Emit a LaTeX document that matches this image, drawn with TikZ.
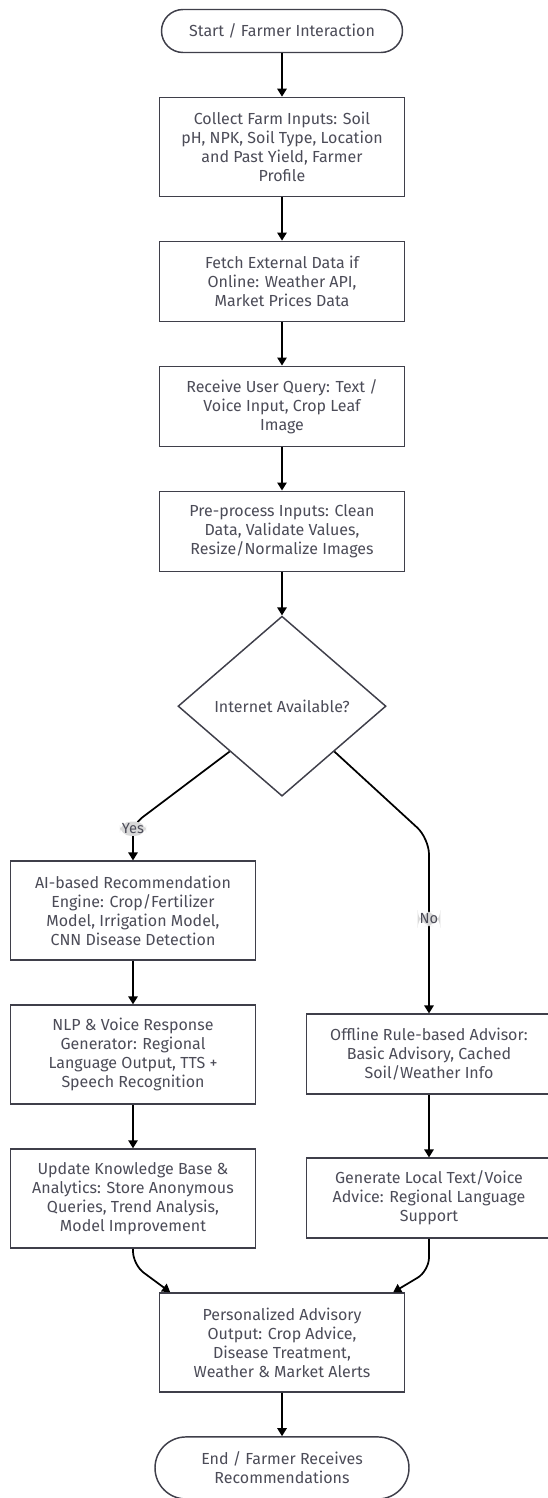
\documentclass[tikz,border=0pt]{standalone}
\usepackage{fontspec}
\setmainfont{Fira Sans}
\usetikzlibrary{positioning, shapes.geometric, shapes.misc, arrows.meta, calc}
\definecolor{edge}{HTML}{3F3F4A}
\definecolor{ink}{HTML}{4C4C58}
\definecolor{tagbg}{HTML}{D9D9D9}

\begin{document}
\begin{tikzpicture}[
    x=0.75pt, y=-0.75pt,
    node distance = 32.6pt,
    every node/.style={font=\fontsize{12}{14.25}\selectfont, text=ink},
    box/.style={rectangle, draw=edge, fill=white, line width=1.1pt, minimum width=183.75pt, minimum height=60pt, align=center, inner sep=0pt},
    tallbox/.style={box, minimum height=74.25pt},
    termnode/.style={rounded rectangle, draw=edge, fill=white, line width=1.1pt, align=center, inner sep=0pt},
    decnode/.style={diamond, draw=edge, fill=white, line width=1.1pt, minimum width=156pt, minimum height=135pt, inner sep=0pt, aspect=1},
    arrow/.style={-{Triangle[width=7pt,length=6pt]}, line width=1.3pt, black},
    tag/.style={fill=tagbg, inner sep=1.5pt, font=\fontsize{11}{12}\selectfont},
  ]
  \useasboundingbox (0,0) rectangle (548,1498);

  % main column
  \node[termnode, minimum width=180.75pt, minimum height=32.25pt] (start) at (282,31) {Start / Farmer Interaction};
  \node[tallbox] (collect) [below=of start] {Collect Farm Inputs: Soil\\pH, NPK, Soil Type, Location\\and Past Yield, Farmer\\Profile};
  \node[box] (fetch) [below=of collect] {Fetch External Data if\\Online: Weather API,\\Market Prices Data};
  \node[box] (query) [below=of fetch] {Receive User Query: Text /\\Voice Input, Crop Leaf\\Image};
  \node[box] (prep) [below=of query] {Pre-process Inputs: Clean\\Data, Validate Values,\\Resize/Normalize Images};
  \node[decnode] (net) [below=of prep] {Internet Available?};

  % online branch
  \node[tallbox] (ai) [below=47.65pt of net, xshift=-111.75pt] {AI-based Recommendation\\Engine: Crop/Fertilizer\\Model, Irrigation Model,\\CNN Disease Detection};
  \node[tallbox] (nlp) [below=of ai] {NLP \& Voice Response\\Generator: Regional\\Language Output, TTS +\\Speech Recognition};
  \node[tallbox] (update) [below=of nlp] {Update Knowledge Base \&\\Analytics: Store Anonymous\\Queries, Trend Analysis,\\Model Improvement};

  % offline branch
  \node[box] (offline) [below=162.4pt of net, xshift=110.25pt] {Offline Rule-based Advisor:\\Basic Advisory, Cached\\Soil/Weather Info};
  \node[box] (local) [below=46.9pt of offline] {Generate Local Text/Voice\\Advice: Regional Language\\Support};

  % merge
  \node[tallbox, anchor=north] (advice) at ($(net |- update.south)+(0,43.5)$) {Personalized Advisory\\Output: Crop Advice,\\Disease Treatment,\\Weather \& Market Alerts};
  \node[termnode, minimum width=190.5pt, minimum height=46.5pt] (end) [below=of advice] {End / Farmer Receives\\Recommendations};

  \draw[arrow] (start) -- (collect);
  \draw[arrow] (collect) -- (fetch);
  \draw[arrow] (fetch) -- (query);
  \draw[arrow] (query) -- (prep);
  \draw[arrow] (prep) -- (net);
  \draw[arrow, rounded corners=8pt] (net.south west) -- ([yshift=27pt]ai.north) -- node[tag, pos=0.12] {Yes} (ai.north);
  \draw[arrow, rounded corners=12pt] (net.south east) -- ([yshift=131.25pt]offline.north) -- node[tag, pos=0.46] {No} (offline.north);
  \draw[arrow] (ai) -- (nlp);
  \draw[arrow] (nlp) -- (update);
  \draw[arrow] (offline) -- (local);
  \draw[arrow, rounded corners=10pt] (update.south) -- ([yshift=-12pt]update.south) -- ([xshift=8.6pt]advice.north west);
  \draw[arrow, rounded corners=10pt] (local.south) -- ([yshift=-24pt]local.south) -- ([xshift=-9pt]advice.north east);
  \draw[arrow] (advice) -- (end);
\end{tikzpicture}
\end{document}
